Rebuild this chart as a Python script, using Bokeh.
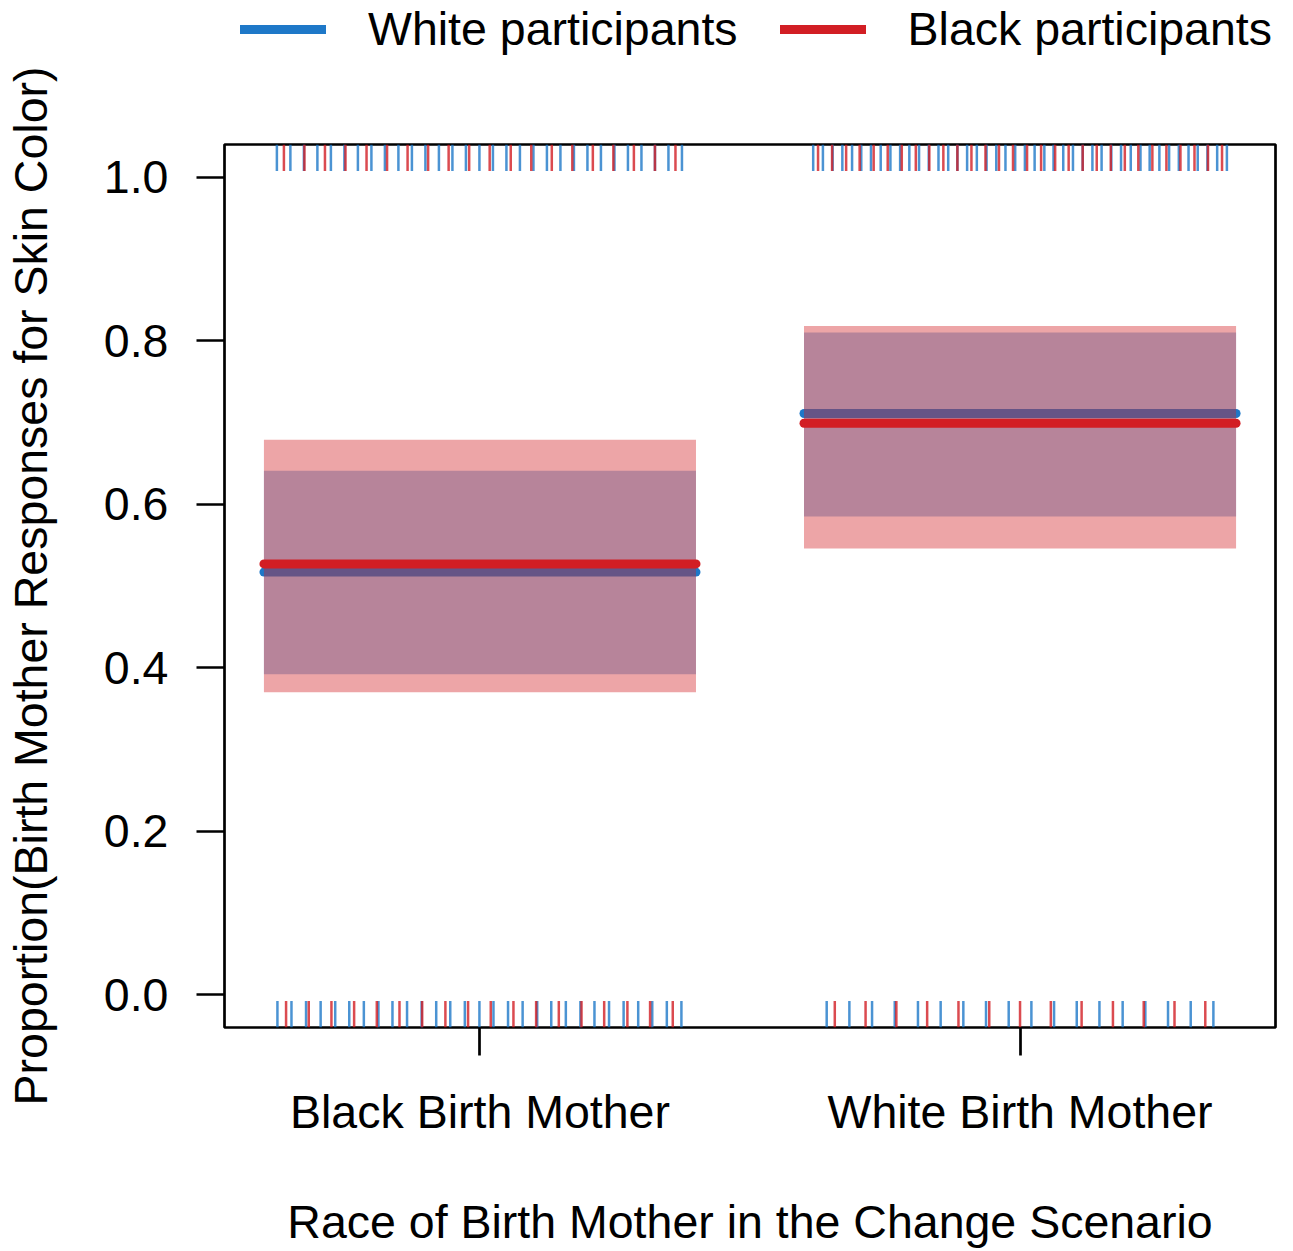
from bokeh.plotting import figure
from bokeh.layouts import column
from bokeh.models import Range1d, FixedTicker, Legend, LegendItem, NumeralTickFormatter
from bokeh.embed import file_html
from bokeh.resources import INLINE

# ---------------- data ----------------
categories = ["Black Birth Mother", "White Birth Mother"]
cat_x = [1, 2]
series_names = ["White participants", "Black participants"]

white_mean = [0.517, 0.711]
white_lo = [0.392, 0.585]
white_hi = [0.641, 0.810]

black_mean = [0.527, 0.699]
black_lo = [0.370, 0.546]
black_hi = [0.679, 0.818]

# rug positions (x in axis units) for responses = 1 (top) and 0 (bottom)
white_rug_top = [0.624, 0.649, 0.674, 0.699, 0.724, 0.749, 0.774, 0.799, 0.824, 0.849,
                 0.874, 0.899, 0.924, 0.949, 0.974, 0.999, 1.024, 1.049, 1.074, 1.099,
                 1.124, 1.149, 1.174, 1.199, 1.224, 1.249, 1.274, 1.299, 1.324, 1.349, 1.374,
                 1.617, 1.635, 1.653, 1.671, 1.689, 1.706, 1.724, 1.742, 1.760, 1.778,
                 1.795, 1.813, 1.831, 1.849, 1.867, 1.884, 1.902, 1.920, 1.938, 1.956,
                 1.973, 1.991, 2.009, 2.027, 2.045, 2.062, 2.080, 2.098, 2.116, 2.134,
                 2.151, 2.169, 2.187, 2.205, 2.223, 2.240, 2.258, 2.276, 2.294, 2.312,
                 2.329, 2.347, 2.365, 2.383]
black_rug_top = [0.637, 0.675, 0.713, 0.751, 0.790, 0.828, 0.866, 0.904, 0.942, 0.980,
                 1.018, 1.057, 1.095, 1.133, 1.171, 1.209, 1.247, 1.285, 1.324, 1.362,
                 1.626, 1.652, 1.678, 1.703, 1.729, 1.755, 1.781, 1.807, 1.832, 1.858,
                 1.884, 1.910, 1.936, 1.961, 1.987, 2.013, 2.039, 2.065, 2.090, 2.116,
                 2.142, 2.168, 2.194, 2.219, 2.245, 2.271, 2.297, 2.323, 2.348, 2.374]
white_rug_bottom = [0.625, 0.651, 0.678, 0.705, 0.732, 0.758, 0.785, 0.812, 0.838, 0.865,
                    0.892, 0.919, 0.945, 0.972, 0.999, 1.025, 1.052, 1.079, 1.106, 1.132,
                    1.159, 1.186, 1.212, 1.239, 1.266, 1.293, 1.319, 1.346, 1.373,
                    1.642, 1.684, 1.726, 1.768, 1.811, 1.853, 1.895, 1.937, 1.979,
                    2.021, 2.063, 2.105, 2.147, 2.190, 2.232, 2.274, 2.316, 2.358]
black_rug_bottom = [0.641, 0.683, 0.725, 0.767, 0.809, 0.851, 0.893, 0.936, 0.978,
                    1.020, 1.062, 1.104, 1.146, 1.188, 1.230, 1.273, 1.315, 1.357,
                    1.657, 1.714, 1.771, 1.828, 1.886, 1.943, 2.000, 2.057, 2.114,
                    2.172, 2.229, 2.286, 2.343]

y_ticks = [0.0, 0.2, 0.4, 0.6, 0.8, 1.0]

# ---------------- style ----------------
BLUE = "#1E78C8"
RED = "#D21E24"
FONT = "Liberation Sans"
FS = "46.5px"
HALF = 0.4          # half width of the bands / mean lines
Y0, Y1 = -0.04, 1.04
RUG = 0.03 * (Y1 - Y0)
W = 1293
LEG_H = 60

left = [c - HALF for c in cat_x]
right = [c + HALF for c in cat_x]

# ---------------- legend strip (its glyphs lie outside its own ranges; only the key shows) ----------------
pl = figure(width=W, height=LEG_H, x_range=Range1d(10, 11), y_range=Range1d(10, 11),
            output_backend="svg", toolbar_location=None, title_location=None,
            x_axis_location=None, y_axis_location=None, min_border=0)
pl.xgrid.visible = False
pl.ygrid.visible = False
pl.outline_line_color = None
pl.background_fill_color = "white"
pl.border_fill_color = "white"
lw = pl.segment(x0=left, x1=right, y0=white_mean, y1=white_mean,
                line_color=BLUE, line_width=9, line_cap="round")
lb = pl.segment(x0=left, x1=right, y0=black_mean, y1=black_mean,
                line_color=RED, line_width=9, line_cap="round")
legend = Legend(items=[LegendItem(label=series_names[0], renderers=[lw]),
                       LegendItem(label=series_names[1], renderers=[lb])],
                orientation="horizontal", location=(16, 4),
                label_text_font=FONT, label_text_font_size=FS, label_text_color="black",
                glyph_width=86, glyph_height=40, label_standoff=42, spacing=42,
                padding=0, margin=0, border_line_color=None,
                background_fill_alpha=0.0)
pl.add_layout(legend, "center")

# ---------------- main plot ----------------
p = figure(width=W, height=1251 - LEG_H,
           x_range=Range1d(0.527, 2.473), y_range=Range1d(Y0, Y1),
           output_backend="svg", toolbar_location=None, title_location=None,
           min_border_left=224, min_border_right=18,
           min_border_top=144 - LEG_H, min_border_bottom=224)
p.xgrid.visible = False
p.ygrid.visible = False
p.outline_line_color = "black"
p.outline_line_width = 2.7
p.outline_line_alpha = 1.0
p.background_fill_color = "white"
p.border_fill_color = "white"

# white participants: band + mean
p.quad(left=left, right=right, bottom=white_lo, top=white_hi,
       fill_color=BLUE, fill_alpha=0.4, line_color=None)
p.segment(x0=left, x1=right, y0=white_mean, y1=white_mean,
          line_color=BLUE, line_width=9, line_cap="round")
# black participants: band + mean
p.quad(left=left, right=right, bottom=black_lo, top=black_hi,
       fill_color=RED, fill_alpha=0.4, line_color=None)
p.segment(x0=left, x1=right, y0=black_mean, y1=black_mean,
          line_color=RED, line_width=9, line_cap="round")

# rugs
def rug(xs, top, color):
    if top:
        y0, y1 = Y1, Y1 - RUG
    else:
        y0, y1 = Y0, Y0 + RUG
    p.segment(x0=xs, x1=xs, y0=[y0] * len(xs), y1=[y1] * len(xs),
              line_color=color, line_width=2.5, line_alpha=0.8)

rug(white_rug_top, True, BLUE)
rug(white_rug_bottom, False, BLUE)
rug(black_rug_top, True, RED)
rug(black_rug_bottom, False, RED)

# axes
for ax in (p.xaxis[0], p.yaxis[0]):
    ax.axis_line_color = None
    ax.major_tick_line_color = "black"
    ax.major_tick_line_width = 2.7
    ax.major_tick_in = 0
    ax.major_tick_out = 28
    ax.minor_tick_line_color = None
    ax.major_label_text_font = FONT
    ax.major_label_text_font_size = FS
    ax.major_label_text_color = "black"
    ax.axis_label_text_font = FONT
    ax.axis_label_text_font_size = FS
    ax.axis_label_text_font_style = "normal"
    ax.axis_label_text_color = "black"

p.xaxis.ticker = FixedTicker(ticks=cat_x)
p.xaxis.major_label_overrides = {c: lab for c, lab in zip(cat_x, categories)}
p.xaxis.major_label_standoff = 30
p.xaxis.axis_label = "Race of Birth Mother in the Change Scenario"
p.xaxis.axis_label_standoff = 55

p.yaxis.ticker = FixedTicker(ticks=y_ticks)
p.yaxis.formatter = NumeralTickFormatter(format="0.0")
p.yaxis.major_label_standoff = 28
p.yaxis.axis_label = "Proportion(Birth Mother Responses for Skin Color)"
p.yaxis.axis_label_standoff = 44

layout = column(pl, p, spacing=0)
open("out.html", "w").write(file_html(layout, INLINE))
